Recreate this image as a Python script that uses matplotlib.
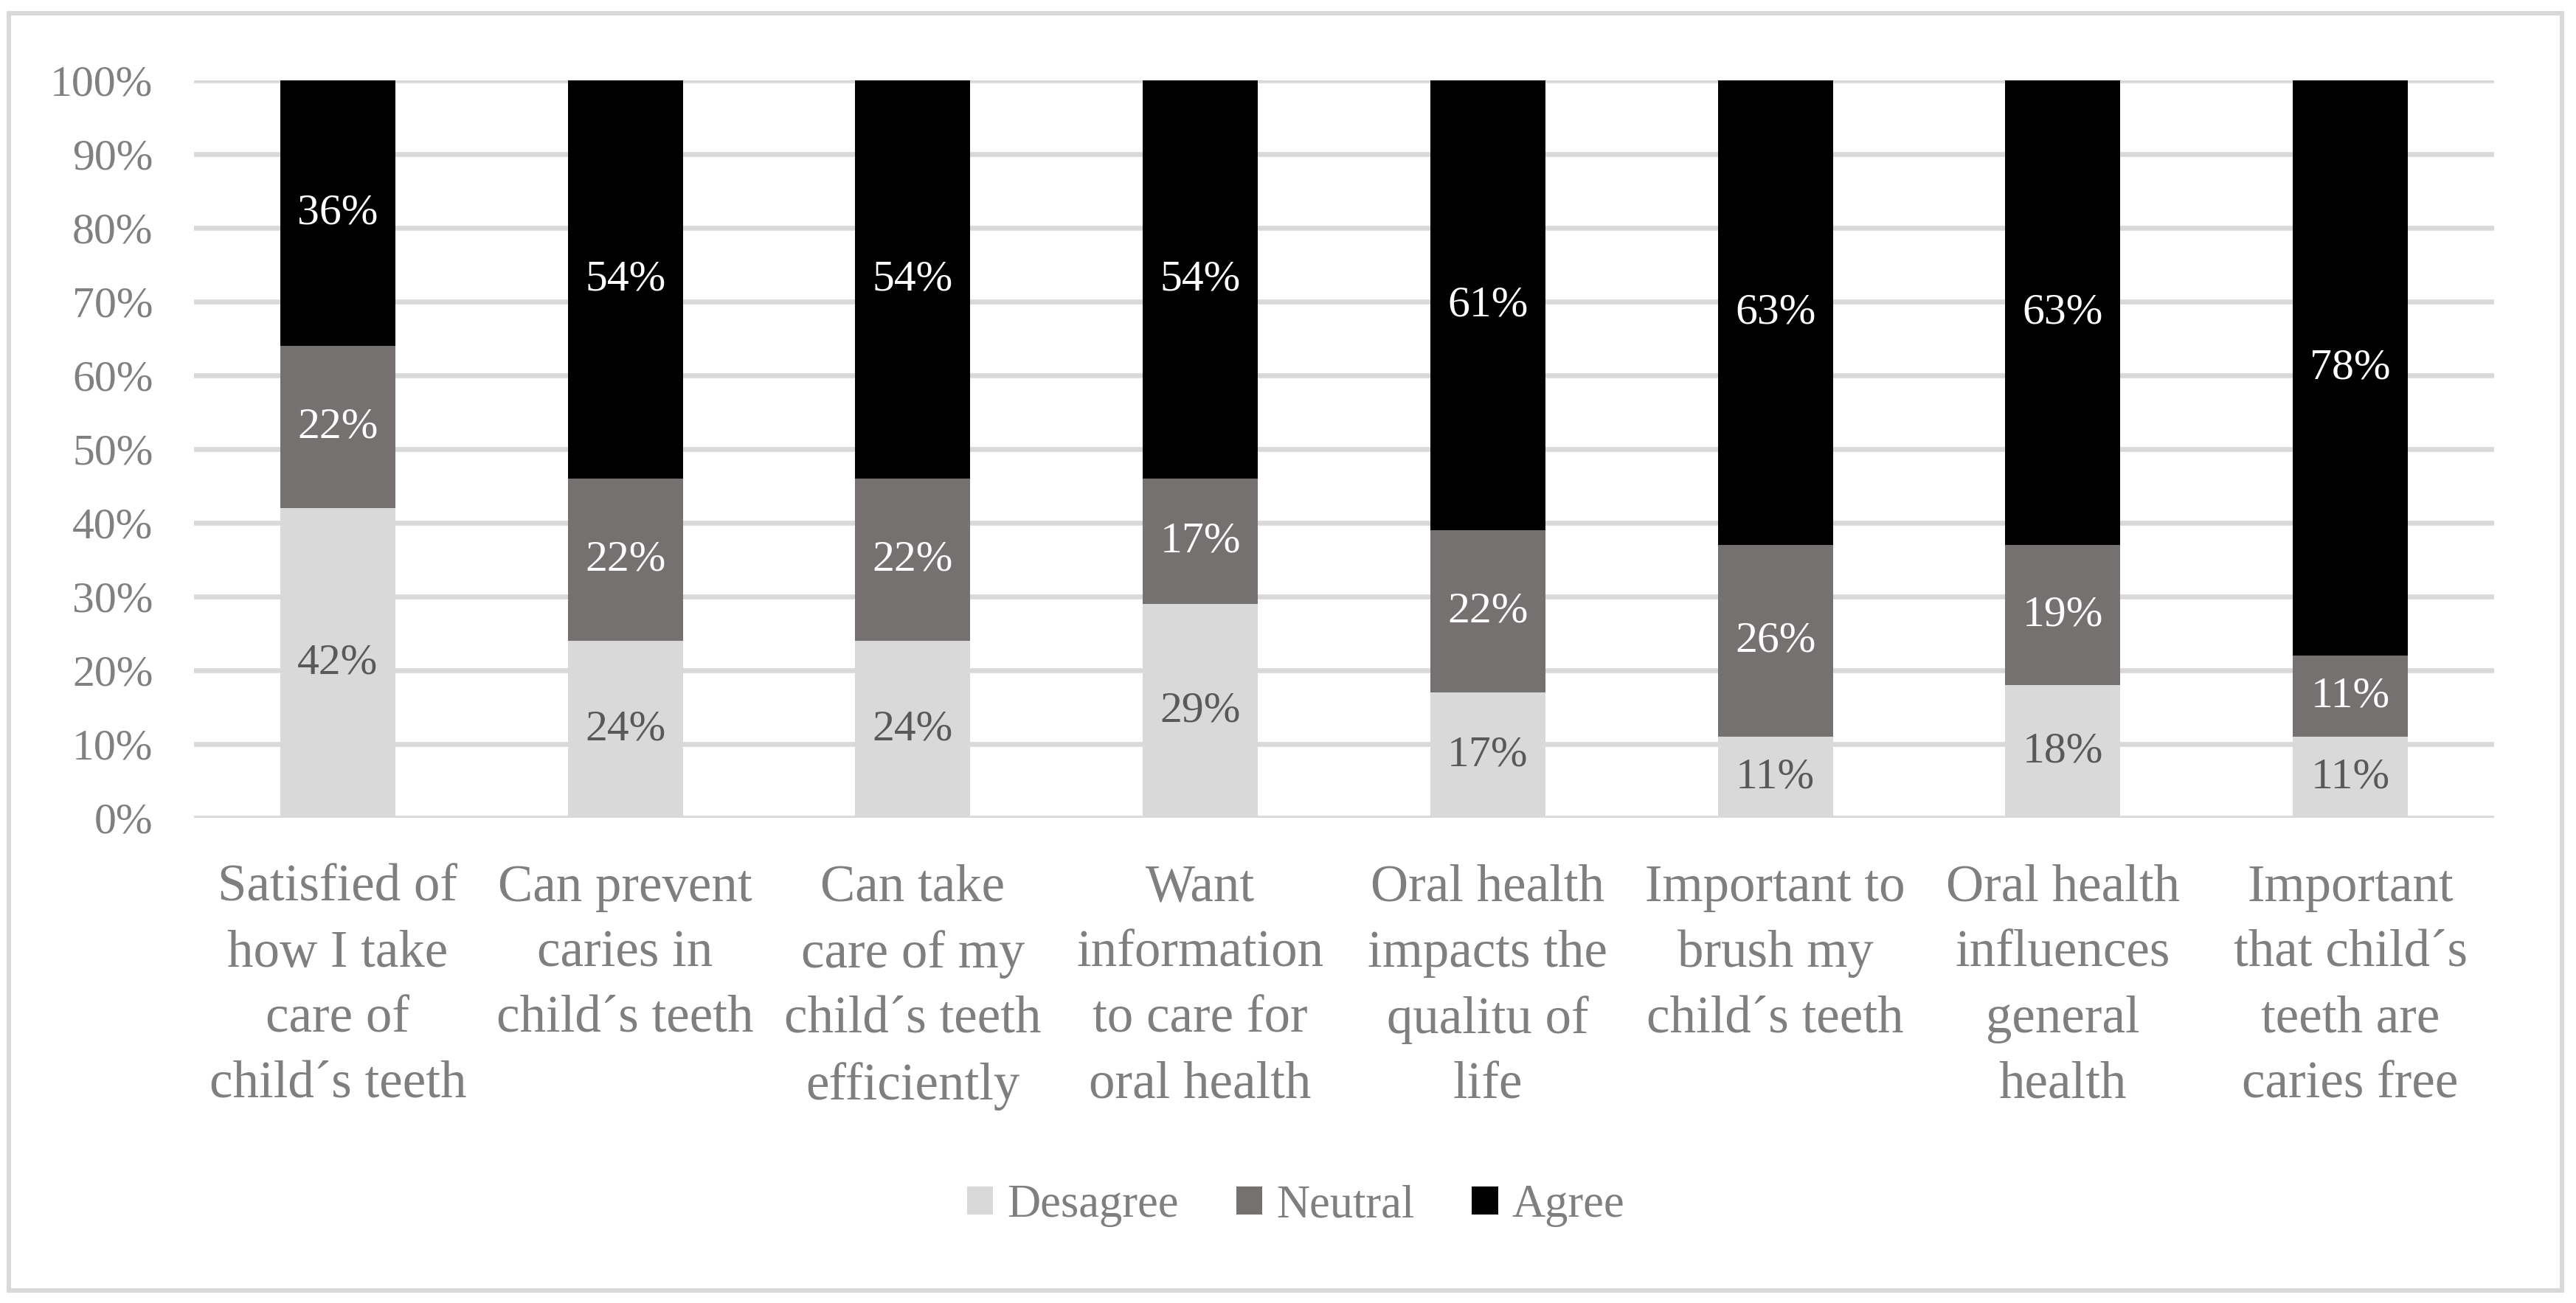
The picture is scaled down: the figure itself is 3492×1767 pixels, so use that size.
import numpy as np
import matplotlib.pyplot as plt
from matplotlib.patches import Rectangle

categories = [
    "Satisfied of\nhow I take\ncare of\nchild\u00b4s teeth",
    "Can prevent\ncaries in\nchild\u00b4s teeth",
    "Can take\ncare of my\nchild\u00b4s teeth\nefficiently",
    "Want\ninformation\nto care for\noral health",
    "Oral health\nimpacts the\nqualitu of\nlife",
    "Important to\nbrush my\nchild\u00b4s teeth",
    "Oral health\ninfluences\ngeneral\nhealth",
    "Important\nthat child\u00b4s\nteeth are\ncaries free",
]

desagree = [42, 24, 24, 29, 17, 11, 18, 11]
neutral = [22, 22, 22, 17, 22, 26, 19, 11]
agree = [36, 54, 54, 54, 61, 63, 63, 78]

series_names = ["Desagree", "Neutral", "Agree"]
colors = ["#d9d9d9", "#767171", "#000000"]
label_colors = ["#595959", "#ffffff", "#ffffff"]
yticks = [0, 10, 20, 30, 40, 50, 60, 70, 80, 90, 100]

plt.rcParams['font.family'] = ['Liberation Serif', 'DejaVu Serif']

W, H = 3492, 1767
fig = plt.figure(figsize=(W / 100, H / 100), dpi=100)
ax = fig.add_axes([263 / W, 1 - 1109 / H, (3381 - 263) / W, 1000 / H])

x = np.arange(len(categories))
bottom = np.zeros(len(categories))
for vals, name, col, lcol in zip([desagree, neutral, agree], series_names, colors, label_colors):
    vals = np.array(vals, dtype=float)
    ax.bar(x, vals, 0.4, bottom=bottom, color=col, label=name, zorder=2)
    for xi, b, v in zip(x, bottom, vals):
        ax.text(xi, b + v / 2, f"{int(v)}%", ha="center", va="center",
                color=lcol, fontsize=43, zorder=3)
    bottom += vals

ax.set_xlim(-0.5, len(categories) - 0.5)
ax.set_ylim(0, 100)
ax.set_yticks(yticks)
ax.set_yticklabels([f"{t}%" for t in yticks], fontsize=43, color="#808080")
ax.set_xticks(x)
ax.set_xticklabels(categories, fontsize=51, color="#7f7f7f", linespacing=1.48)
ax.tick_params(axis="both", length=0)
ax.tick_params(axis="y", pad=40)
ax.tick_params(axis="x", pad=45)
ax.yaxis.grid(True, color="#d9d9d9", linewidth=4.8, zorder=0)
ax.set_axisbelow(True)
for s in ax.spines.values():
    s.set_visible(False)

fig.legend(loc="center", bbox_to_anchor=(0.503, 1 - 1635 / H), ncol=3, frameon=False,
           fontsize=45, labelcolor="#7f7f7f", handlelength=0.57, handleheight=0.57,
           handletextpad=0.3, columnspacing=1.25)

fig.patches.append(Rectangle((12 / W, 1 - 1750 / H), (3473 - 12) / W, (1750 - 18) / H,
                             transform=fig.transFigure, fill=False,
                             edgecolor="#d9d9d9", linewidth=4.3))

fig.savefig("out.png", dpi=100, facecolor="white")
